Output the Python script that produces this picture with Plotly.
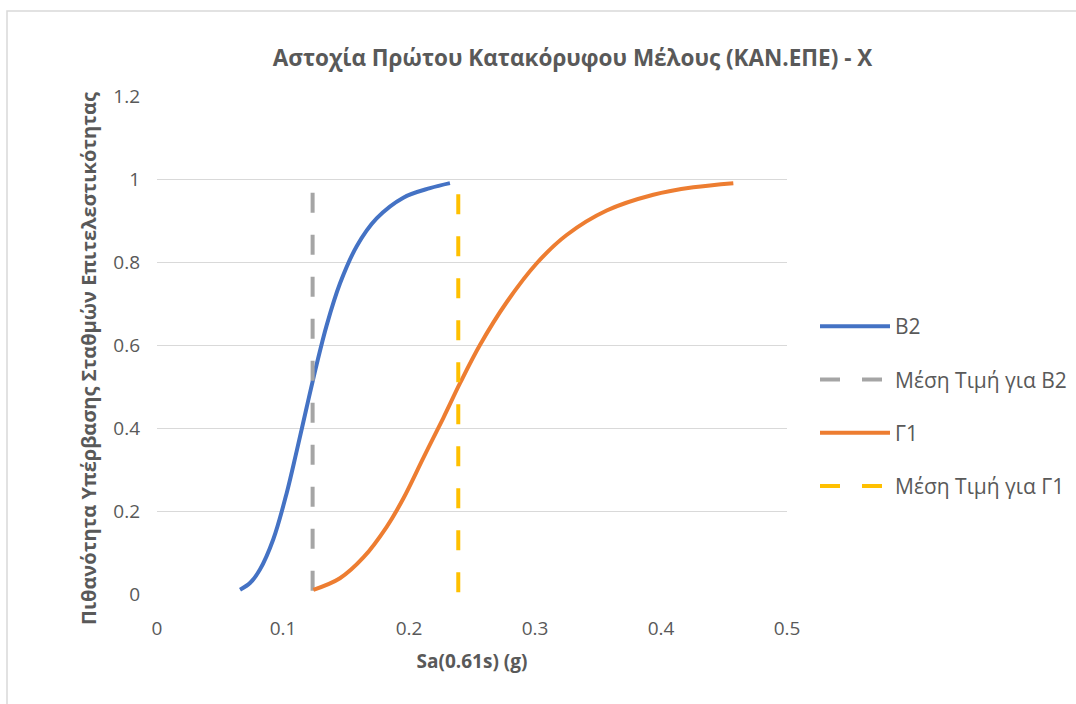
import plotly.graph_objects as go

# B2 fragility curve
b2_x = [0.0659, 0.0740, 0.0817, 0.0923, 0.1029, 0.1109, 0.1188, 0.1267, 0.1347, 0.1452, 0.1585, 0.1743, 0.1955, 0.2167, 0.2325]
b2_y = [0.01, 0.027, 0.059, 0.132, 0.243, 0.345, 0.450, 0.553, 0.648, 0.748, 0.838, 0.905, 0.955, 0.978, 0.99]

# Γ1 fragility curve
g1_x = [0.1241, 0.1452, 0.1638, 0.1823, 0.1955, 0.2114, 0.2272, 0.2405, 0.2563, 0.2775, 0.3014, 0.3251, 0.3569, 0.3939, 0.4257, 0.4574]
g1_y = [0.01, 0.038, 0.088, 0.162, 0.230, 0.328, 0.424, 0.508, 0.600, 0.703, 0.797, 0.865, 0.924, 0.962, 0.980, 0.99]

# Median lines
b2_med_x = [0.1235, 0.1235]
b2_med_y = [0.008, 0.968]
g1_med_x = [0.2391, 0.2391]
g1_med_y = [0.004, 0.968]

names = ["B2", "Μέση Τιμή για B2", "Γ1", "Μέση Τιμή για Γ1"]
colors = ["#4472C4", "#A5A5A5", "#ED7D31", "#FFC000"]

fig = go.Figure()
fig.add_trace(go.Scatter(x=b2_x, y=b2_y, mode="lines", name=names[0], legendgroup="a",
                         line=dict(color=colors[0], width=4, shape="spline", smoothing=1.0)))
fig.add_trace(go.Scatter(x=b2_med_x, y=b2_med_y, mode="lines", name=names[1], legendgroup="b",
                         line=dict(color=colors[1], width=4, dash="20px,22px")))
fig.add_trace(go.Scatter(x=g1_x, y=g1_y, mode="lines", name=names[2], legendgroup="c",
                         line=dict(color=colors[2], width=4, shape="spline", smoothing=1.0)))
fig.add_trace(go.Scatter(x=g1_med_x, y=g1_med_y, mode="lines", name=names[3], legendgroup="d",
                         line=dict(color=colors[3], width=4, dash="20px,22px")))

L, R, T, B = 157, 289, 96, 110
W, H = 1076, 704
pw, ph = W - L - R, H - T - B
FONT = "Open Sans"
GREY = "#595959"

fig.update_layout(
    width=W, height=H,
    margin=dict(l=L, r=R, t=T, b=B, autoexpand=False),
    paper_bgcolor="white", plot_bgcolor="white",
    font=dict(family=FONT, color=GREY, size=19),
    title=dict(text="<b>Αστοχία Πρώτου Κατακόρυφου Μέλους (ΚΑΝ.ΕΠΕ) - X</b>",
               x=(272 + 873) / 2 / W, xanchor="center", y=1 - 58 / H, yanchor="middle",
               font=dict(family=FONT, size=22.5, color=GREY)),
    xaxis=dict(range=[0, 0.5], dtick=0.1, showgrid=False, zeroline=False, showline=False,
               ticks="", ticklabelstandoff=21, tickfont=dict(family=FONT, size=19, color=GREY),
               title=dict(text="<b>Sa(0.61s) (g)</b>", font=dict(family=FONT, size=19, color=GREY), standoff=14)),
    yaxis=dict(range=[0, 1.2], dtick=0.2, showgrid=True, gridcolor="#D9D9D9", gridwidth=1.3,
               zeroline=False, showline=False, ticks="", ticklabelstandoff=16,
               tickfont=dict(family=FONT, size=19, color=GREY)),
    legend=dict(x=(815 - L) / pw, xanchor="left", y=1 - (306 - T) / ph, yanchor="top",
                font=dict(family=FONT, size=21, color=GREY), tracegroupgap=23, itemwidth=70,
                bgcolor="rgba(0,0,0,0)"),
    showlegend=True,
)

# Y axis title as rotated annotation (centred as in the reference)
fig.add_annotation(text="<b>Πιθανότητα Υπέρβασης Σταθμών Επιτελεστικότητας</b>",
                   xref="paper", yref="paper", x=(88 - L) / pw, y=1 - (359 - T) / ph,
                   xanchor="center", yanchor="middle", textangle=-90, showarrow=False,
                   font=dict(family=FONT, size=20, color=GREY))

# Outer chart border
fig.add_shape(type="rect", xref="paper", yref="paper",
              x0=(7 - L) / pw, x1=(1090 - L) / pw, y0=-(720 - T - ph) / ph, y1=1 + (T - 11) / ph,
              line=dict(color="#D9D9D9", width=1.5), fillcolor="rgba(0,0,0,0)", layer="below")

fig.write_html("out.html")
